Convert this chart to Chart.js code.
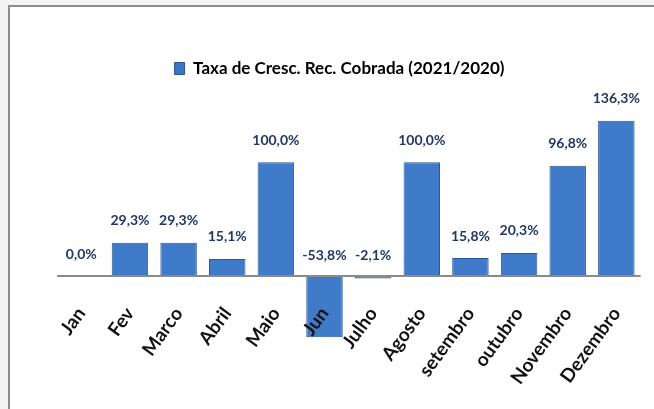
<!DOCTYPE html>
<html>
<head>
<meta charset="utf-8">
<script src="https://cdn.jsdelivr.net/npm/chart.js@4.4.1/dist/chart.umd.min.js"></script>
<style>
  html, body { margin: 0; padding: 0; background: #ffffff; overflow: hidden; }
  #c { display: block; }
</style>
</head>
<body>
<canvas id="c" width="654" height="409"></canvas>
<script>
const categories = ['Jan', 'Fev', 'Marco', 'Abril', 'Maio', 'Jun', 'Julho', 'Agosto', 'setembro', 'outubro', 'Novembro', 'Dezembro'];
const growthRate = [0.0, 29.3, 29.3, 15.1, 100.0, -53.8, -2.1, 100.0, 15.8, 20.3, 96.8, 136.3];
const seriesName = 'Taxa de Cresc. Rec. Cobrada (2021/2020)';

const FONT = "Lato, 'Open Sans', sans-serif";

function fmt(v) { return v.toFixed(1).replace('.', ',') + '%'; }

// page backdrop and the top/left frame of the pasted chart picture
const paperFrame = {
  id: 'paperFrame',
  beforeDraw(chart) {
    const ctx = chart.ctx;
    const W = chart.width, H = chart.height;
    ctx.save();
    ctx.fillStyle = '#f3f3f3';
    ctx.fillRect(0, 0, W, H);
    ctx.fillStyle = '#ffffff';
    ctx.fillRect(8, 5, W - 8, H - 5);
    ctx.fillStyle = '#8c8c8c';
    ctx.fillRect(8, 5, W - 8, 2);
    ctx.fillRect(8, 5, 2, H - 5);
    ctx.restore();
  }
};

const valueLabels = {
  id: 'valueLabels',
  afterDatasetsDraw(chart) {
    const ctx = chart.ctx;
    const meta = chart.getDatasetMeta(0);
    ctx.save();
    ctx.font = "bold 14px " + FONT;
    ctx.fillStyle = '#1f3864';
    ctx.textAlign = 'center';
    ctx.textBaseline = 'middle';
    meta.data.forEach((el, i) => {
      const v = growthRate[i];
      const top = Math.min(el.y, el.base);
      ctx.fillText(fmt(v), el.x, top - 22);
    });
    ctx.restore();
  }
};

function barFill(context) {
  const chart = context.chart;
  const el = context.element;
  if (!el || !chart.chartArea) return '#3f7bc8';
  const w = el.width || 37;
  const x0 = el.x - w / 2, x1 = el.x + w / 2;
  if (!isFinite(x0) || !isFinite(x1)) return '#3f7bc8';
  const g = chart.ctx.createLinearGradient(x0, 0, x1, 0);
  g.addColorStop(0, '#2a5799');
  g.addColorStop(0.14, '#4485d2');
  g.addColorStop(0.5, '#4b8ad6');
  g.addColorStop(0.86, '#4485d2');
  g.addColorStop(1, '#2a5799');
  return g;
}

new Chart(document.getElementById('c'), {
  type: 'bar',
  data: {
    labels: categories,
    datasets: [{
      label: seriesName,
      data: growthRate,
      backgroundColor: barFill,
      borderColor: '#2b5594',
      borderWidth: 1,
      categoryPercentage: 1.0,
      barPercentage: 0.75
    }]
  },
  options: {
    responsive: false,
    animation: false,
    layout: { padding: { left: 30, right: 5, top: 50, bottom: 19 } },
    plugins: {
      legend: {
        display: true,
        position: 'top',
        labels: {
          boxWidth: 10,
          boxHeight: 12,
          padding: 10,
          color: '#111111',
          font: { family: FONT, size: 17, weight: 'bold' },
          generateLabels(chart) {
            return [{
              text: seriesName,
              fillStyle: '#3a74c2',
              strokeStyle: '#2b5594',
              lineWidth: 1,
              datasetIndex: 0
            }];
          }
        }
      },
      tooltip: { enabled: false }
    },
    scales: {
      x: {
        type: 'category',
        position: { y: 0 },
        grid: { display: false },
        border: { display: false },
        ticks: {
          z: 1,
          autoSkip: false,
          maxRotation: 54,
          minRotation: 54,
          color: '#111111',
          padding: 19,
          font: { family: FONT, size: 19, weight: 'bold' }
        }
      },
      y: {
        min: -100,
        max: 166,
        display: true,
        afterBuildTicks(scale) { scale.ticks = [{ value: 0 }]; },
        grid: { display: true, drawTicks: false, color: '#8a8a8a', lineWidth: 2, z: 1 },
        border: { display: false },
        ticks: { display: false },
        afterFit(scale) { scale.width = 27; }
      }
    }
  },
  plugins: [paperFrame, valueLabels]
});
</script>
</body>
</html>
